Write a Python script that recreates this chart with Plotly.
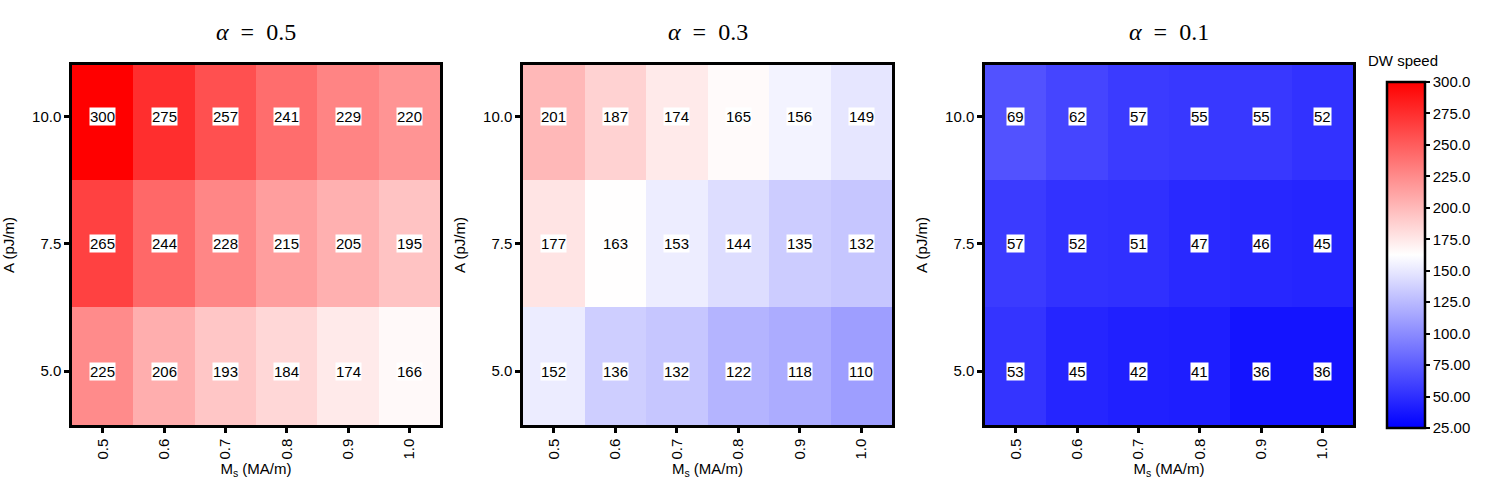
import plotly.graph_objects as go

ms_values = [0.5, 0.6, 0.7, 0.8, 0.9, 1.0]
ms_ticklabels = ["0.5", "0.6", "0.7", "0.8", "0.9", "1.0"]
a_values = [5.0, 7.5, 10.0]
a_ticklabels = ["5.0", "7.5", "10.0"]
alpha_labels = ["0.5", "0.3", "0.1"]

# rows ordered as a_values (5.0, 7.5, 10.0)
speed_alpha05 = [
    [225, 206, 193, 184, 174, 166],
    [265, 244, 228, 215, 205, 195],
    [300, 275, 257, 241, 229, 220],
]
speed_alpha03 = [
    [152, 136, 132, 122, 118, 110],
    [177, 163, 153, 144, 135, 132],
    [201, 187, 174, 165, 156, 149],
]
speed_alpha01 = [
    [53, 45, 42, 41, 36, 36],
    [57, 52, 51, 47, 46, 45],
    [69, 62, 57, 55, 55, 52],
]
cbar_tickvals = [25, 50, 75, 100, 125, 150, 175, 200, 225, 250, 275, 300]
cbar_ticktext = ["25.00", "50.00", "75.00", "100.0", "125.0", "150.0",
                 "175.0", "200.0", "225.0", "250.0", "275.0", "300.0"]

panels = [speed_alpha05, speed_alpha03, speed_alpha01]

W, H = 1493, 487
x_domains = [(72 / W, 440 / W), (523 / W, 892 / W), (985 / W, 1353 / W)]
y_domain = (1 - 425 / H, 1 - 65 / H)

colorscale = [[0, "rgb(0,0,255)"], [0.5, "rgb(255,255,255)"], [1, "rgb(255,0,0)"]]
sans = "Liberation Sans, Arial, sans-serif"

fig = go.Figure()
annotations = []
for i, z in enumerate(panels):
    xa = "x" if i == 0 else f"x{i+1}"
    ya = "y" if i == 0 else f"y{i+1}"
    fig.add_trace(go.Heatmap(
        x=ms_values, y=a_values, z=z,
        zmin=25, zmax=300, colorscale=colorscale,
        xaxis=xa, yaxis=ya,
        showscale=(i == 0),
        colorbar=dict(
            x=1387 / W, xanchor="left", xpad=0,
            y=1 - 255 / H, yanchor="middle",
            len=346, lenmode="pixels",
            thickness=38, thicknessmode="pixels",
            outlinecolor="black", outlinewidth=2.5,
            tickvals=cbar_tickvals, ticktext=cbar_ticktext,
            ticks="outside", ticklen=4, tickwidth=2, tickcolor="black",
            tickfont=dict(family=sans, size=15, color="black"),
            ypad=0,
        ),
        hoverinfo="skip",
    ))
    for r, a in enumerate(a_values):
        for c, m in enumerate(ms_values):
            annotations.append(dict(
                x=m, y=a, xref=xa, yref=ya, text=str(z[r][c]),
                showarrow=False, bgcolor="white", borderpad=0,
                font=dict(family=sans, size=15, color="black"),
            ))
    xd = x_domains[i]
    annotations.append(dict(
        x=(xd[0] + xd[1]) / 2, y=1 - 32 / H, xref="paper", yref="paper",
        text=f"<i>α</i>&nbsp;&nbsp;=&nbsp;&nbsp;{alpha_labels[i]}", showarrow=False,
        font=dict(family="Liberation Serif, DejaVu Serif, serif", size=24, color="black"),
        xanchor="center", yanchor="middle",
    ))
    axis_common = dict(
        showline=True, mirror=True, linecolor="black", linewidth=2.5,
        ticks="outside", ticklen=5, tickwidth=2.5, tickcolor="black",
        showgrid=False, zeroline=False,
        tickfont=dict(family=sans, size=15, color="black"),
        title_font=dict(family=sans, size=15, color="black"),
    )
    fig.layout[f"xaxis{'' if i == 0 else i+1}"] = dict(
        axis_common, domain=list(xd), anchor=ya, range=[0.45, 1.05],
        tickvals=ms_values, ticktext=ms_ticklabels, tickangle=-90,
        title=dict(text="M<sub>s</sub> (MA/m)", standoff=4),
    )
    fig.layout[f"yaxis{'' if i == 0 else i+1}"] = dict(
        axis_common, domain=list(y_domain), anchor=xa, range=[3.94, 11.02],
        tickvals=a_values, ticktext=a_ticklabels,
        title=dict(text="A (pJ/m)", standoff=14),
    )

annotations.append(dict(
    x=1403 / W, y=1 - 60 / H, xref="paper", yref="paper", text="DW speed",
    showarrow=False, xanchor="center", yanchor="middle",
    font=dict(family=sans, size=15, color="black"),
))

fig.update_layout(
    width=W, height=H,
    margin=dict(l=0, r=0, t=0, b=0),
    paper_bgcolor="white", plot_bgcolor="white",
    annotations=annotations,
    showlegend=False,
)

fig.write_html("out.html", config={"displayModeBar": False},
               post_script="document.body.style.margin='0px';")
